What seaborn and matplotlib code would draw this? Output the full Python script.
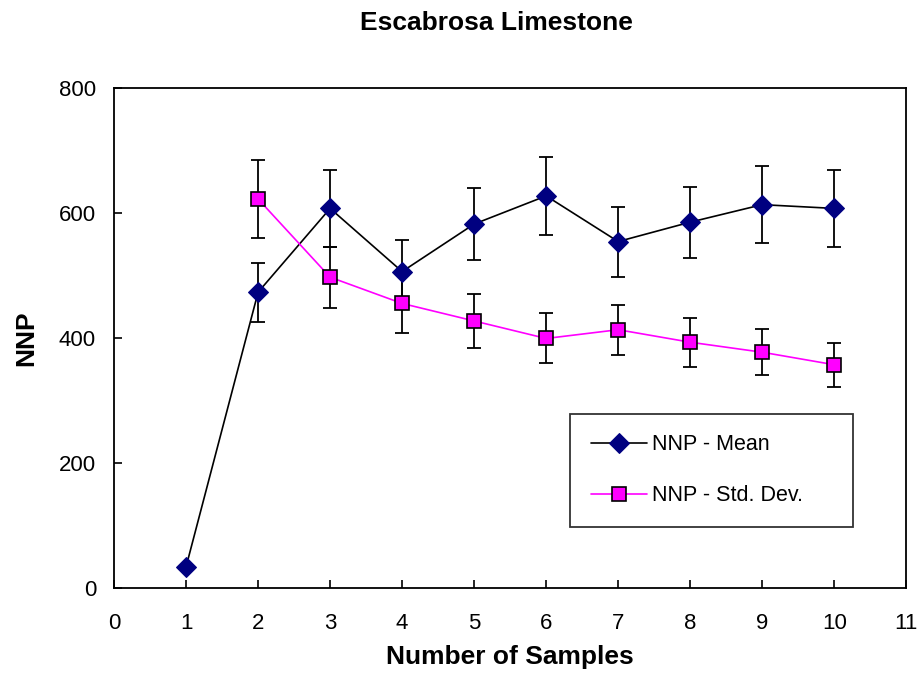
import pandas as pd
import matplotlib
matplotlib.use('Agg')
import matplotlib.pyplot as plt
import seaborn as sns

# Данные
samples = [1, 2, 3, 4, 5, 6, 7, 8, 9, 10]
nnp_mean = [34, 473, 607, 506, 582, 627, 554, 585, 613, 607]
mean_err = [0, 47, 61, 51, 57, 63, 56, 57, 62, 61]

std_samples = [2, 3, 4, 5, 6, 7, 8, 9, 10]
nnp_std = [622, 497, 455, 427, 399, 413, 393, 377, 357]
std_err = [62, 49, 47, 43, 40, 40, 39, 37, 35]

mean_df = pd.DataFrame({'n': samples, 'nnp': nnp_mean})
std_df = pd.DataFrame({'n': std_samples, 'nnp': nnp_std})

sns.set_style('white')
plt.rcParams['font.family'] = ['Liberation Sans', 'DejaVu Sans']
plt.rcParams.update({'text.color': 'black', 'axes.labelcolor': 'black',
                     'xtick.color': 'black', 'ytick.color': 'black'})

fig = plt.figure(figsize=(9.2, 6.75), dpi=100)
ax = fig.add_axes([0.124, 0.129, 0.861, 0.741])

# Планки погрешностей
ax.errorbar(samples[1:], nnp_mean[1:], yerr=mean_err[1:], fmt='none',
            ecolor='black', elinewidth=1.3, capsize=5, capthick=1.3, zorder=2)
ax.errorbar(std_samples, nnp_std, yerr=std_err, fmt='none',
            ecolor='black', elinewidth=1.3, capsize=5, capthick=1.3, zorder=2)

sns.lineplot(data=mean_df, x='n', y='nnp', ax=ax, color='black', linewidth=1.2,
             marker='D', markersize=10, markerfacecolor='#000080',
             markeredgecolor='#000080', label='NNP - Mean', zorder=3)
sns.lineplot(data=std_df, x='n', y='nnp', ax=ax, color='#FF00FF', linewidth=1.2,
             marker='s', markersize=9.5, markerfacecolor='#FF00FF',
             markeredgecolor='black', markeredgewidth=1.2,
             label='NNP - Std. Dev.', zorder=3)

ax.set_xlim(0, 11)
ax.set_ylim(0, 800)
ax.set_xticks(range(0, 12))
ax.set_yticks(range(0, 801, 200))
ax.tick_params(axis='x', direction='in', length=6, width=1.2, labelsize=16,
               pad=18, bottom=True)
ax.tick_params(axis='y', direction='in', length=6, width=1.2, labelsize=16,
               pad=13, left=True)
for s in ax.spines.values():
    s.set_color('black')
    s.set_linewidth(1.3)

ax.set_xlabel('Number of Samples', fontsize=19, fontweight='bold', labelpad=8)
ax.set_ylabel('NNP', fontsize=19, fontweight='bold', labelpad=15)
fig.text(0.54, 0.966, 'Escabrosa Limestone', ha='center', va='center',
         fontsize=19, fontweight='bold')

leg = ax.legend(loc='upper left', bbox_to_anchor=(0.576, 0.348, 0.357, 0.0),
                mode='expand', fontsize=15.5, frameon=True, fancybox=False,
                borderpad=0.95, labelspacing=1.4, handlelength=2.6,
                handletextpad=0.25, borderaxespad=0)
leg.get_frame().set_edgecolor('black')
leg.get_frame().set_linewidth(1.3)

fig.savefig('out.png', dpi=100)
plt.close(fig)
